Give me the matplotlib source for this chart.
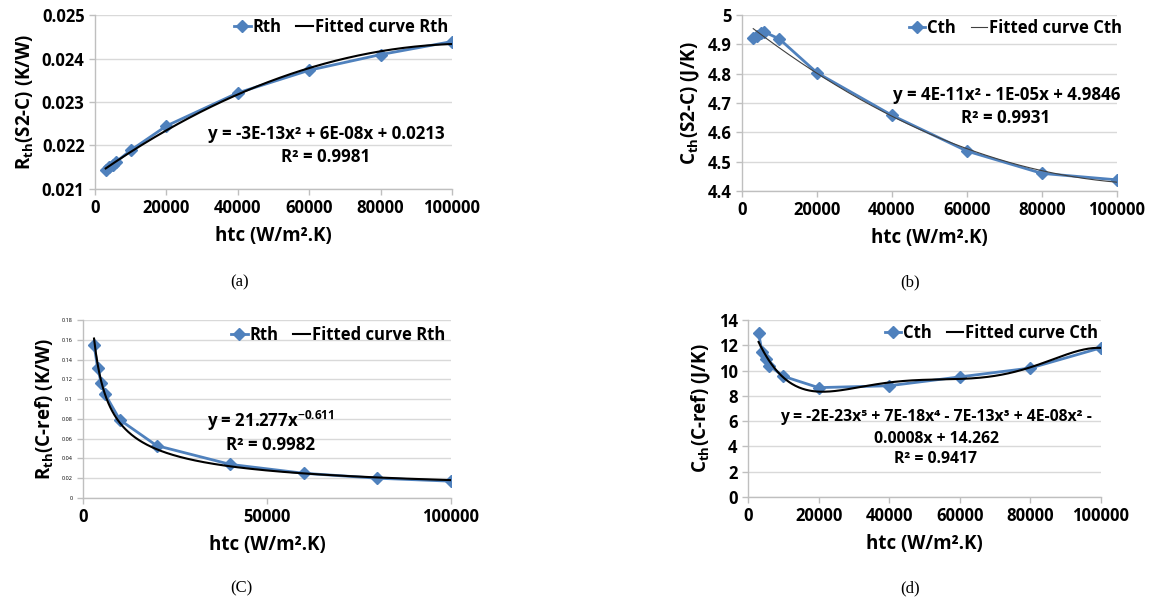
import numpy as np
import matplotlib
matplotlib.use("Agg")
import matplotlib.pyplot as plt
from matplotlib.ticker import FixedLocator, FuncFormatter

plt.rcParams['font.family'] = ['Open Sans', 'DejaVu Sans']
plt.rcParams['font.weight'] = 'bold'
plt.rcParams['mathtext.fontset'] = 'custom'
plt.rcParams['mathtext.rm'] = 'Open Sans:bold'
plt.rcParams['mathtext.it'] = 'Open Sans:bold'
plt.rcParams['mathtext.bf'] = 'Open Sans:bold'

# ---- data ----
htc = [3000, 4000, 5000, 6000, 10000, 20000, 40000, 60000, 80000, 100000]
rth_s2c = [0.02143, 0.02150, 0.02156, 0.02163, 0.02189, 0.02245, 0.02321, 0.02373, 0.02409, 0.02439]
cth_s2c = [4.920, 4.930, 4.938, 4.942, 4.918, 4.803, 4.658, 4.536, 4.460, 4.438]
rth_cref = [0.155, 0.131, 0.116, 0.105, 0.079, 0.053, 0.034, 0.025, 0.020, 0.017]
cth_cref = [12.95, 11.45, 10.90, 10.40, 9.55, 8.65, 8.80, 9.50, 10.20, 11.80]

xticks_main = [0, 20000, 40000, 60000, 80000, 100000]
xticks_c = [0, 50000, 100000]
yticks_a = [0.021, 0.022, 0.023, 0.024, 0.025]
yticks_b = [4.4, 4.5, 4.6, 4.7, 4.8, 4.9, 5.0]
yticks_c = [0, 0.02, 0.04, 0.06, 0.08, 0.1, 0.12, 0.14, 0.16, 0.18]
yticks_d = [0, 2, 4, 6, 8, 10, 12, 14]

BLUE = '#4F81BD'
W, H = 1151, 603
fig = plt.figure(figsize=(W / 100, H / 100), dpi=100)


def add_ax(l, r, t, b):
    return fig.add_axes([l / W, 1 - b / H, (r - l) / W, (b - t) / H])


def ptext(x, y, s, size=12.2, **kw):
    fig.text(x / W, 1 - y / H, s, ha='center', va='center', fontsize=size,
             fontweight='bold', **kw)


def style(ax, xticks, yticks, ylab, yfmt, ytick_fs=12):
    ax.set_xlim(xticks[0], xticks[-1])
    ax.set_ylim(yticks[0] - 1e-12, yticks[-1] + 1e-12)
    ax.xaxis.set_major_locator(FixedLocator(xticks))
    ax.yaxis.set_major_locator(FixedLocator(yticks))
    ax.xaxis.set_major_formatter(FuncFormatter(lambda v, p: f'{int(round(v))}'))
    ax.yaxis.set_major_formatter(FuncFormatter(lambda v, p: yfmt(v)))
    for lab in ax.get_xticklabels():
        lab.set_fontsize(12)
        lab.set_fontweight('bold')
    ax.tick_params(axis='x', labelsize=12)
    ax.tick_params(axis='y', labelsize=ytick_fs)
    if ytick_fs < 6:
        for lab in ax.get_yticklabels():
            lab.set_fontweight('normal')
    for s in ['top', 'right']:
        ax.spines[s].set_visible(False)
    for s in ['left', 'bottom']:
        ax.spines[s].set_color('#BFBFBF')
        ax.spines[s].set_linewidth(1)
    ax.tick_params(axis='both', colors='#BFBFBF', length=4, width=1, labelcolor='black')
    ax.grid(axis='y', color='#D9D9D9', linewidth=1)
    ax.set_axisbelow(True)
    ax.set_xlabel('htc (W/m².K)', fontsize=13.5, fontweight='bold', labelpad=6)
    ax.set_ylabel(ylab, fontsize=13.5, fontweight='bold', labelpad=4)


def legend(ax, xr, yc):
    ax.legend(loc='center right', bbox_to_anchor=(xr / W, 1 - yc / H),
              bbox_transform=fig.transFigure, ncol=2, frameon=False,
              handlelength=1.0, handletextpad=0.1, columnspacing=0.9,
              borderaxespad=0, borderpad=0, prop={'weight': 'bold', 'size': 12})


xs = np.linspace(htc[0], htc[-1], 400)
MS = 6.5

# (a)
ax = add_ax(95, 452, 15, 189)
fit = np.polynomial.Polynomial.fit(htc, rth_s2c, 2)
ax.plot(htc, rth_s2c, color=BLUE, lw=2, marker='D', ms=MS, label='Rth')
ax.plot(xs, fit(xs), color='black', lw=1.5, label='Fitted curve Rth')
style(ax, xticks_main, yticks_a, r'R$_{\rm th}$(S2-C) (K/W)', lambda v: f'{v:.3f}')
legend(ax, 448, 27)
ptext(326, 134, 'y = -3E-13x² + 6E-08x + 0.0213')
ptext(326, 157, 'R² = 0.9981')
fig.text(240 / W, 1 - 282 / H, '(a)', ha='center', va='center', fontsize=12,
         family='Liberation Serif', fontweight='normal')

# (b)
ax = add_ax(742, 1117, 15, 191)
fit = np.polynomial.Polynomial.fit(htc, cth_s2c, 2)
ax.plot(htc, cth_s2c, color=BLUE, lw=2, marker='D', ms=MS, label='Cth')
ax.plot(xs, fit(xs), color='#404040', lw=0.8, label='Fitted curve Cth')
style(ax, xticks_main, yticks_b, r'C$_{\rm th}$(S2-C) (J/K)', lambda v: f'{v:g}')
legend(ax, 1122, 28)
ptext(1007, 95, 'y = 4E-11x² - 1E-05x + 4.9846')
ptext(1006, 118, 'R² = 0.9931')
fig.text(910 / W, 1 - 282 / H, '(b)', ha='center', va='center', fontsize=12,
         family='Liberation Serif', fontweight='normal')

# (C)
ax = add_ax(83, 451, 320, 498)
coef = np.polyfit(np.log(htc), np.log(rth_cref), 1)
ax.plot(htc, rth_cref, color=BLUE, lw=2, marker='D', ms=MS, label='Rth')
ax.plot(xs, np.exp(coef[1]) * xs ** coef[0], color='black', lw=1.5, label='Fitted curve Rth')
style(ax, xticks_c, yticks_c, r'R$_{\rm th}$(C-ref) (K/W)', lambda v: f'{round(v, 2):g}', ytick_fs=4)
legend(ax, 445, 335)
ptext(271, 421, r'y = 21.277x$^{-0.611}$')
ptext(271, 445, 'R² = 0.9982')
fig.text(241 / W, 1 - 588 / H, '(C)', ha='center', va='center', fontsize=12,
         family='Liberation Serif', fontweight='normal')

# (d)
ax = add_ax(748, 1101, 320, 497)
fit = np.polynomial.Polynomial.fit(htc, cth_cref, 5)
ax.plot(htc, cth_cref, color=BLUE, lw=2, marker='D', ms=MS, label='Cth')
ax.plot(xs, fit(xs), color='black', lw=1.5, label='Fitted curve Cth')
style(ax, xticks_main, yticks_d, r'C$_{\rm th}$(C-ref) (J/K)', lambda v: f'{v:g}')
legend(ax, 1098, 333)
ptext(936, 417, 'y = -2E-23x⁵ + 7E-18x⁴ - 7E-13x³ + 4E-08x² -', size=11.3)
ptext(936, 439, '0.0008x + 14.262', size=11.3)
ptext(936, 459, 'R² = 0.9417', size=11.3)
fig.text(910 / W, 1 - 588 / H, '(d)', ha='center', va='center', fontsize=12,
         family='Liberation Serif', fontweight='normal')

fig.savefig('out.png', dpi=100, facecolor='white')
